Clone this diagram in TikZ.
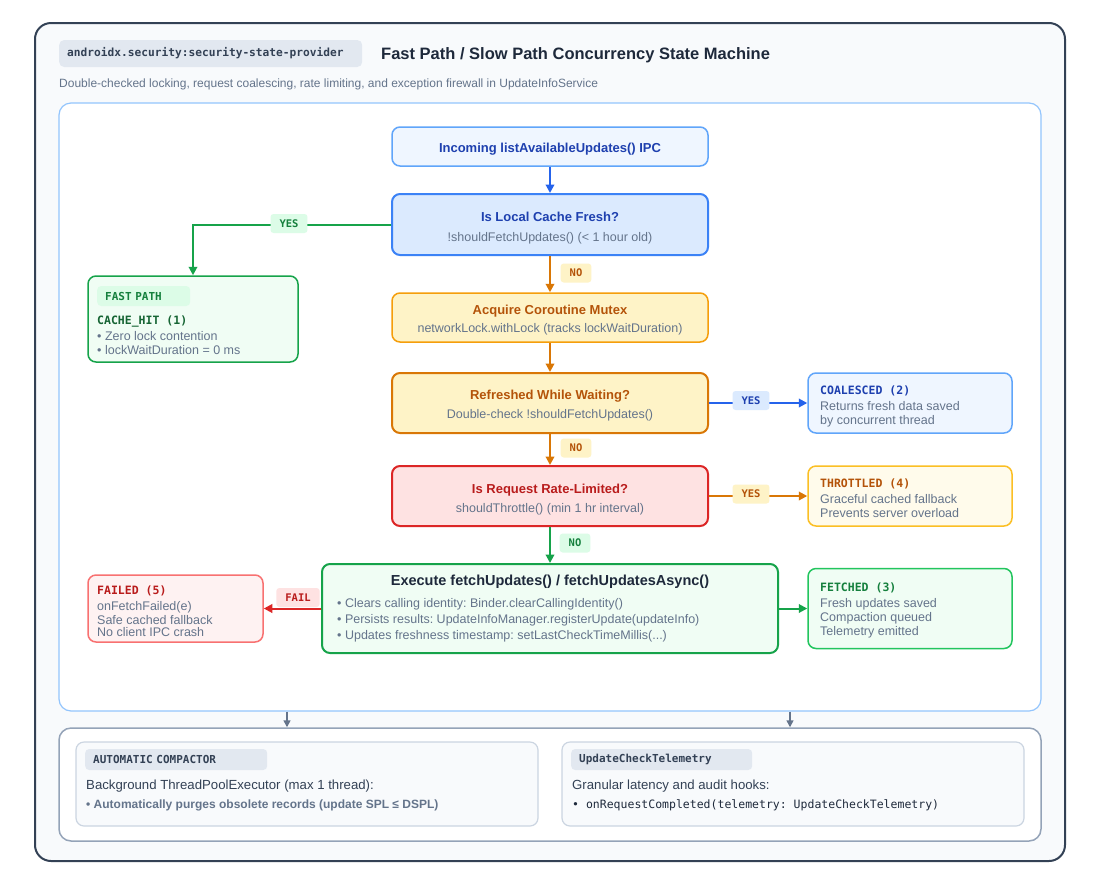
\documentclass[tikz,border=0pt]{standalone}
\usepackage{fontspec}
\setmainfont{Liberation Sans}
\newfontfamily\monof{DejaVu Sans Mono}
\usetikzlibrary{arrows.meta}
\frenchspacing
\definecolor{cOuter}{HTML}{334155}
\definecolor{cBg}{HTML}{F8FAFC}
\definecolor{cInner}{HTML}{93C5FD}
\definecolor{cBotC}{HTML}{94A3B8}
\definecolor{cBotB}{HTML}{CBD5E1}
\definecolor{cTag}{HTML}{E2E8F0}
\definecolor{cDark}{HTML}{1E293B}
\definecolor{cSlate}{HTML}{334155}
\definecolor{cSub}{HTML}{64748B}
\definecolor{cBlueT}{HTML}{1E40AF}
\definecolor{cBlueF1}{HTML}{EFF6FF}
\definecolor{cBlueF2}{HTML}{DBEAFE}
\definecolor{cBlueD1}{HTML}{60A5FA}
\definecolor{cBlueD2}{HTML}{3B82F6}
\definecolor{cBlueA}{HTML}{2563EB}
\definecolor{cOrT}{HTML}{B45309}
\definecolor{cOrF}{HTML}{FEF3C7}
\definecolor{cOrF2}{HTML}{FFFBEB}
\definecolor{cOrD1}{HTML}{F59E0B}
\definecolor{cOrD2}{HTML}{D97706}
\definecolor{cOrD3}{HTML}{FBBF24}
\definecolor{cOrA}{HTML}{D97706}
\definecolor{cRedT}{HTML}{B91C1C}
\definecolor{cRedF}{HTML}{FEE2E2}
\definecolor{cRedF2}{HTML}{FEF2F2}
\definecolor{cRedD}{HTML}{DC2626}
\definecolor{cRedD2}{HTML}{F87171}
\definecolor{cGrT}{HTML}{15803D}
\definecolor{cGrT2}{HTML}{166534}
\definecolor{cGrF}{HTML}{F0FDF4}
\definecolor{cGrF2}{HTML}{DCFCE7}
\definecolor{cGrD}{HTML}{16A34A}
\definecolor{cGrD2}{HTML}{22C55E}
\begin{document}
\begin{tikzpicture}[x=1pt,y=-1pt,
  box/.style={rectangle, rounded corners=8pt, draw, line width=1.5pt, inner sep=0pt},
  dec/.style={box, line width=2pt},
  cont/.style={rectangle, rounded corners=12pt, draw, inner sep=0pt},
  txt/.style={inner sep=0pt, yshift=-2.5pt},
  ttl/.style={txt, font=\fontsize{13}{15}\selectfont\bfseries, anchor=mid},
  sub/.style={txt, font=\fontsize{12.5}{15}\selectfont, text=cSub, anchor=mid},
  det/.style={txt, font=\fontsize{12.5}{15}\selectfont, text=cSub, anchor=mid west},
  hdr/.style={txt, font=\monof\bfseries\fontsize{11.5}{14}\selectfont, anchor=mid west},
  pill/.style={font=\monof\bfseries\fontsize{10.5}{12}\selectfont, rounded corners=3pt, inner xsep=9pt, inner ysep=0pt, minimum height=19pt},
  tag/.style={font=\monof\bfseries\fontsize{11}{13}\selectfont, text=cSlate, fill=cTag, rounded corners=4pt, anchor=west, align=left, inner xsep=8pt, inner ysep=0pt, minimum height=21pt},
  arr/.style={line width=2pt, -{Triangle[length=8.5pt,width=8.5pt]}},
  arrS/.style={line width=1.5pt, -{Triangle[length=7pt,width=7pt]}}
]
\useasboundingbox (0,0) rectangle (1100,884);
\fill[white] (0,0) rectangle (1100,884);

% containers
\node[cont, draw=cOuter, fill=cBg, line width=2pt, rounded corners=16pt, minimum width=1030pt, minimum height=838pt] (frame) at (550,442) {};
\node[cont, draw=cInner, fill=white, line width=1.2pt, minimum width=982pt, minimum height=608pt] (inner) at (550,407) {};
\node[cont, draw=cBotC, fill=white, line width=1.5pt, minimum width=982pt, minimum height=113pt] (bottom) at (550,784.5) {};

% header
\node[tag, text width=287pt, minimum height=27pt, rounded corners=5pt, font=\monof\bfseries\fontsize{11.2}{13}\selectfont] (pkg) at (59,53.5) {androidx.security:security-state-provider};
\node[txt, anchor=mid west, font=\fontsize{16.5}{19}\selectfont\bfseries, text=cDark] (title) at (381,54) {Fast Path / Slow Path Concurrency State Machine};
\node[txt, anchor=mid west, font=\fontsize{12}{14}\selectfont, text=cSub] (subtitle) at (59,82) {Double-checked locking, request coalescing, rate limiting, and exception firewall in UpdateInfoService};

% main column boxes
\node[box, draw=cBlueD1, fill=cBlueF1, minimum width=316pt, minimum height=39pt] (inc) at (550,146.5) {};
\node[dec, draw=cBlueD2, fill=cBlueF2, minimum width=316pt, minimum height=61pt] (cache) at (550,224.5) {};
\node[box, draw=cOrD1, fill=cOrF, minimum width=316pt, minimum height=49pt] (acq) at (550,317.5) {};
\node[dec, draw=cOrD2, fill=cOrF, minimum width=316pt, minimum height=60pt] (ref) at (550,403) {};
\node[dec, draw=cRedD, fill=cRedF, minimum width=316pt, minimum height=60pt] (rate) at (550,496) {};
\node[dec, draw=cGrD, fill=cGrF, minimum width=456pt, minimum height=89pt] (exe) at (550,608.5) {};

% side boxes
\node[box, draw=cGrD, fill=cGrF, minimum width=210pt, minimum height=86pt] (fast) at (193,319) {};
\node[box, draw=cBlueD1, fill=cBlueF1, minimum width=204pt, minimum height=60pt] (coal) at (910,403) {};
\node[box, draw=cOrD3, fill=cOrF2, minimum width=204pt, minimum height=60pt] (thr) at (910,496) {};
\node[box, draw=cGrD2, fill=cGrF, minimum width=204pt, minimum height=80pt] (fet) at (910,608.5) {};
\node[box, draw=cRedD2, fill=cRedF2, minimum width=175pt, minimum height=67pt] (fail) at (175.5,608.5) {};

% connectors
\draw[arr, cBlueA] (inc.south) -- (cache.north);
\draw[arr, cGrD] (cache.west) -| (fast.north);
\draw[arr, cOrA] (cache.south) -- (acq.north);
\draw[arr, cOrA] (acq.south) -- (ref.north);
\draw[arr, cBlueA] (ref.east) -- (coal.west);
\draw[arr, cOrA] (ref.south) -- (rate.north);
\draw[arr, cOrA] (rate.east) -- (thr.west);
\draw[arr, cGrD] (rate.south) -- (exe.north);
\draw[arr, cRedD] (exe.west) -- (fail.east);
\draw[arr, cGrD] (exe.east) -- (fet.west);
\coordinate (b1) at (287,0);
\coordinate (b2) at (790,0);
\draw[arrS, cSub] (inner.south -| b1) -- (bottom.north -| b1);
\draw[arrS, cSub] (inner.south -| b2) -- (bottom.north -| b2);

% pills
\node[pill, fill=cGrF2, text=cGrT] (p1) at (289,223.5) {YES};
\node[pill, fill=cOrF, text=cOrT] (p2) at (576,273) {NO};
\node[pill, fill=cBlueF2, text=cBlueT] (p3) at (751,400.5) {YES};
\node[pill, fill=cOrF, text=cOrT] (p4) at (576,448) {NO};
\node[pill, fill=cOrF, text=cOrT] (p5) at (751,494) {YES};
\node[pill, fill=cGrF2, text=cGrT] (p6) at (575,543) {NO};
\node[pill, fill=cRedF, text=cRedT] (p7) at (298,597.5) {FAIL};

% main column texts
\node[ttl, text=cBlueT] (incT) at (550,147) {Incoming listAvailableUpdates() IPC};
\node[ttl, text=cBlueT] (cacheT) at (550,216) {Is Local Cache Fresh?};
\node[sub] (cacheS) at (550,236) {!shouldFetchUpdates() (< 1 hour old)};
\node[ttl, text=cOrT] (acqT) at (550,309) {Acquire Coroutine Mutex};
\node[sub] (acqS) at (550,327) {networkLock.withLock (tracks lockWaitDuration)};
\node[ttl, text=cOrT] (refT) at (550,394) {Refreshed While Waiting?};
\node[sub] (refS) at (550,413) {Double-check !shouldFetchUpdates()};
\node[ttl, text=cRedT] (rateT) at (550,488) {Is Request Rate-Limited?};
\node[sub] (rateS) at (550,507) {shouldThrottle() (min 1 hr interval)};
\node[ttl, text=cDark, font=\fontsize{14.5}{17}\selectfont\bfseries] (exeT) at (550,580) {Execute fetchUpdates() / fetchUpdatesAsync()};
\node[det] (exe1) at (337,602.5) {• Clears calling identity: Binder.clearCallingIdentity()};
\node[det] (exe2) at (337,618.5) {• Persists results: UpdateInfoManager.registerUpdate(updateInfo)};
\node[det] (exe3) at (337,634) {• Updates freshness timestamp: setLastCheckTimeMillis(...)};

% fast path texts
\node[tag, text=cGrT, fill=cGrF2, text width=77pt, minimum height=20pt, inner xsep=8pt] (fastTag) at (97,296) {FAST PATH};
\node[hdr, text=cGrT2] (fastH) at (97,319) {CACHE\_HIT (1)};
\node[det] (fast1) at (97,335) {• Zero lock contention};
\node[det] (fast2) at (97,349) {• lockWaitDuration = 0 ms};

% coalesced
\node[hdr, text=cBlueT] (coalH) at (820,389) {COALESCED (2)};
\node[det] (coal1) at (820,405) {Returns fresh data saved};
\node[det] (coal2) at (820,419.5) {by concurrent thread};

% throttled
\node[hdr, text=cOrT] (thrH) at (820,482.5) {THROTTLED (4)};
\node[det] (thr1) at (820,498.5) {Graceful cached fallback};
\node[det] (thr2) at (820,512.5) {Prevents server overload};

% fetched
\node[hdr, text=cGrT] (fetH) at (820,586) {FETCHED (3)};
\node[det] (fet1) at (820,602.5) {Fresh updates saved};
\node[det] (fet2) at (820,616) {Compaction queued};
\node[det] (fet3) at (820,630) {Telemetry emitted};

% failed
\node[hdr, text=cRedT] (failH) at (97,589) {FAILED (5)};
\node[det] (fail1) at (97,605) {onFetchFailed(e)};
\node[det] (fail2) at (97,619) {Safe cached fallback};
\node[det] (fail3) at (97,631.5) {No client IPC crash};

% bottom panels
\node[box, draw=cBotB, fill=cBg, line width=1.2pt, minimum width=462pt, minimum height=84pt] (comp) at (307,784) {};
\node[box, draw=cBotB, fill=cBg, line width=1.2pt, minimum width=462pt, minimum height=84pt] (tele) at (793,784) {};
\node[tag, text width=166pt] (compTag) at (85,759.5) {AUTOMATIC COMPACTOR};
\node[txt, anchor=mid west, font=\fontsize{13.2}{15}\selectfont, text=cSlate] (comp1) at (86,784) {Background ThreadPoolExecutor (max 1 thread):};
\node[txt, anchor=mid west, font=\fontsize{12}{14}\selectfont\bfseries, text=cSub] (comp2) at (86,803) {• Automatically purges obsolete records (update SPL ≤ DSPL)};
\node[tag, text width=165pt] (teleTag) at (571,759.5) {UpdateCheckTelemetry};
\node[txt, anchor=mid west, font=\fontsize{13.2}{15}\selectfont, text=cSlate] (tele1) at (572,784) {Granular latency and audit hooks:};
\node[txt, anchor=mid west, font=\monof\fontsize{11.5}{14}\selectfont, text=cDark] (tele2) at (572,803) {• onRequestCompleted(telemetry: UpdateCheckTelemetry)};
\end{tikzpicture}
\end{document}
